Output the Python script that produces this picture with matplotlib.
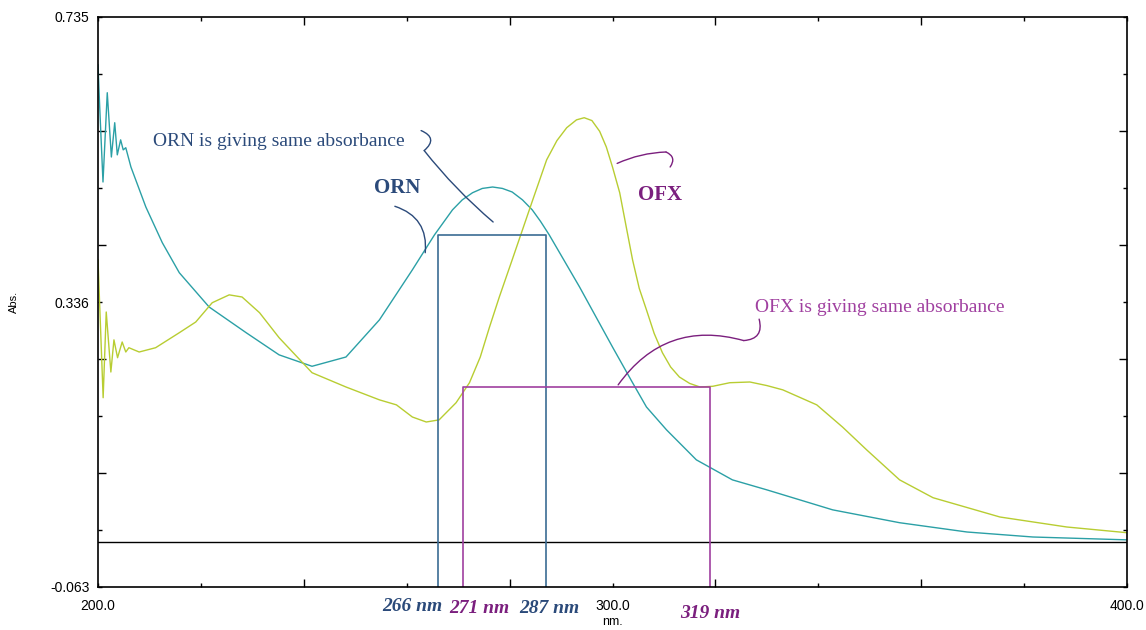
import matplotlib
matplotlib.use("Agg")
import matplotlib.pyplot as plt

TEAL = "#2ba0a6"
LIME = "#b8cd32"
BOX_BLUE = "#3b6c94"
BOX_PURPLE = "#a040a0"
NAVY_TXT = "#2b4a7a"
PURPLE_TXT = "#7b1f7e"

# ORN spectrum (wavelength nm, absorbance)
orn_nm = [200.0, 200.33, 200.97, 201.8, 202.6, 203.25, 203.75, 204.4, 204.9, 205.4,
          206.4, 209.3, 212.5, 215.8, 221.6, 228.8, 235.2, 241.6, 248.2, 254.7,
          261.1, 265.4, 268.9, 270.8, 272.8, 274.7, 276.7, 278.6, 280.5, 282.5,
          284.4, 286.0, 287.7, 293.6, 300.0, 303.9, 306.6, 310.5, 316.3, 323.3,
          330.0, 342.8, 355.8, 368.9, 381.7, 400.0]
orn_abs = [0.668, 0.609, 0.504, 0.629, 0.539, 0.587, 0.542, 0.563, 0.549, 0.552,
           0.525, 0.469, 0.419, 0.377, 0.329, 0.293, 0.262, 0.246, 0.259, 0.311,
           0.381, 0.430, 0.465, 0.479, 0.489, 0.495, 0.497, 0.495, 0.490, 0.479,
           0.465, 0.449, 0.430, 0.357, 0.273, 0.223, 0.189, 0.157, 0.115, 0.087,
           0.073, 0.045, 0.027, 0.014, 0.007, 0.003]

# OFX spectrum (wavelength nm, absorbance)
ofx_nm = [200.0, 201.0, 201.6, 202.5, 203.1, 203.8, 204.7, 205.4, 206.0, 208.0,
          211.2, 215.8, 219.0, 222.2, 225.5, 228.0, 231.4, 235.2, 241.6, 248.2,
          254.7, 258.0, 261.1, 263.8, 266.3, 269.6, 272.2, 274.3, 276.1, 278.0,
          280.5, 282.5, 284.5, 287.2, 289.2, 291.1, 293.0, 294.5, 296.0, 297.5,
          298.8, 300.0, 301.4, 302.7, 303.9, 305.2, 306.6, 308.1, 309.7, 311.3,
          313.0, 315.0, 317.0, 319.5, 322.8, 326.7, 330.0, 333.1, 339.7, 344.7,
          349.4, 355.8, 362.3, 375.3, 388.3, 400.0]
ofx_abs = [0.395, 0.202, 0.322, 0.238, 0.283, 0.258, 0.280, 0.266, 0.272, 0.266,
           0.272, 0.293, 0.308, 0.335, 0.346, 0.343, 0.321, 0.286, 0.237, 0.217,
           0.199, 0.192, 0.175, 0.168, 0.171, 0.195, 0.223, 0.259, 0.301, 0.343,
           0.395, 0.437, 0.479, 0.535, 0.562, 0.580, 0.591, 0.594, 0.590, 0.575,
           0.553, 0.525, 0.489, 0.440, 0.395, 0.355, 0.325, 0.292, 0.265, 0.245,
           0.231, 0.222, 0.217, 0.218, 0.223, 0.224, 0.219, 0.213, 0.192, 0.161,
           0.129, 0.087, 0.062, 0.035, 0.021, 0.013]

# equal-absorbance wavelength pairs
orn_pair = [266, 287]
orn_level = 0.430
ofx_pair = [271, 319]
ofx_level = 0.217

X_MIN, X_MAX = 200.0, 400.0
Y_MIN, Y_MAX = -0.063, 0.735

plt.rcParams["font.family"] = ["Liberation Sans", "DejaVu Sans"]

fig = plt.figure(figsize=(11.46, 6.30), dpi=100)
ax = fig.add_axes([98 / 1146, 1 - 587 / 630, 1029 / 1146, 570 / 630])

ax.plot(orn_nm, orn_abs, color=TEAL, lw=1.0)
ax.plot(ofx_nm, ofx_abs, color=LIME, lw=1.0)
ax.axhline(0.0, color="black", lw=1.0)

ax.plot([orn_pair[0], orn_pair[0], orn_pair[1], orn_pair[1]],
        [Y_MIN, orn_level, orn_level, Y_MIN], color=BOX_BLUE, lw=1.2)
ax.plot([ofx_pair[0], ofx_pair[0], ofx_pair[1], ofx_pair[1]],
        [Y_MIN, ofx_level, ofx_level, Y_MIN], color=BOX_PURPLE, lw=1.2)

ax.set_xlim(X_MIN, X_MAX)
ax.set_ylim(Y_MIN, Y_MAX)

xt = list(range(200, 401, 20))
ax.set_xticks(xt)
ax.set_xticklabels([f"{v:.1f}" if v % 100 == 0 else "" for v in xt], fontsize=10)
step = (Y_MAX - Y_MIN) / 10
yt = [Y_MIN + i * step for i in range(11)]
ax.set_yticks(yt)
ax.set_yticklabels([f"{v:.3f}" if i in (0, 5, 10) else "" for i, v in enumerate(yt)],
                   fontsize=10)
ax.tick_params(direction="in", top=True, right=True, width=1.0)
ax.tick_params(axis="x", pad=9)
ax.tick_params(axis="y", pad=6)
for ticks in (ax.xaxis.get_major_ticks(), ax.yaxis.get_major_ticks()):
    for i, t in enumerate(ticks):
        size = 6 if i % 2 == 0 and 0 < i < 10 else 3
        t.tick1line.set_markersize(size)
        t.tick2line.set_markersize(size)
for s in ax.spines.values():
    s.set_linewidth(1.2)

fig.text(14 / 1146, 1 - 302 / 630, "Abs.", rotation=90, ha="center", va="center", fontsize=8)
ax.text(300, -0.061, "nm.", transform=ax.get_xaxis_transform(), ha="center", va="center",
        fontsize=9)

serif = ["Liberation Serif", "DejaVu Serif"]


def stroke(p_from, p_to, color, rad):
    ax.annotate("", xy=p_to, xytext=p_from,
                arrowprops=dict(arrowstyle="-", color=color, lw=1.0,
                                shrinkA=0, shrinkB=0,
                                connectionstyle=f"arc3,rad={rad}"))


# callouts
ax.text(210.7, 0.56, "ORN is giving same absorbance", family=serif, fontsize=14,
        color=NAVY_TXT, ha="left", va="center")
stroke((262.8, 0.576), (263.4, 0.548), NAVY_TXT, -0.8)
stroke((263.4, 0.548), (276.8, 0.448), NAVY_TXT, 0.05)

ax.text(258.1, 0.496, "ORN", family=serif, fontsize=15, fontweight="bold",
        color=NAVY_TXT, ha="center", va="center")
stroke((257.7, 0.470), (263.6, 0.405), NAVY_TXT, -0.4)

ax.text(309.2, 0.486, "OFX", family=serif, fontsize=15, fontweight="bold",
        color=PURPLE_TXT, ha="center", va="center")
stroke((300.9, 0.530), (310.4, 0.546), PURPLE_TXT, -0.1)
stroke((310.4, 0.546), (311.2, 0.525), PURPLE_TXT, -0.6)

ax.text(327.7, 0.328, "OFX is giving same absorbance", family=serif, fontsize=14,
        color=BOX_PURPLE, ha="left", va="center")
stroke((328.5, 0.312), (325.5, 0.282), PURPLE_TXT, -0.6)
stroke((325.5, 0.282), (301.1, 0.220), PURPLE_TXT, 0.35)

# wavelength labels under the axis
xf = ax.get_xaxis_transform()
for x, y, lab, col in [(261.0, -0.035, f"{orn_pair[0]} nm", NAVY_TXT),
                       (274.1, -0.037, f"{ofx_pair[0]} nm", PURPLE_TXT),
                       (287.7, -0.037, f"{orn_pair[1]} nm", NAVY_TXT),
                       (319.0, -0.046, f"{ofx_pair[1]} nm", PURPLE_TXT)]:
    ax.text(x, y, lab, transform=xf, family=serif, fontsize=14, fontweight="bold",
            fontstyle="italic", color=col, ha="center", va="center", clip_on=False)

fig.savefig("out.png", dpi=100)
